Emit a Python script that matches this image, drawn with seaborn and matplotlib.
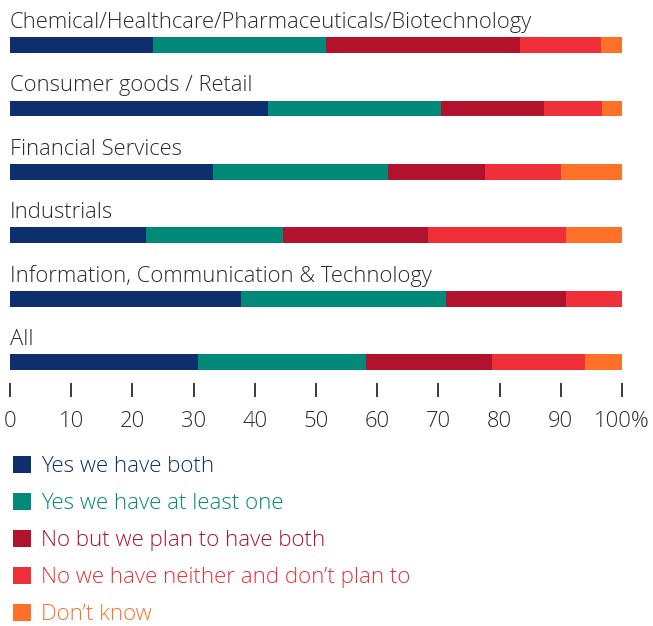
import pandas as pd
import numpy as np
import matplotlib.pyplot as plt
import seaborn as sns
from matplotlib.patches import Patch

# ── data ───────────────────────────────────────────────────────
industries = [
    "Chemical/Healthcare/Pharmaceuticals/Biotechnology",
    "Consumer goods / Retail",
    "Financial Services",
    "Industrials",
    "Information, Communication & Technology",
    "All",
]
answers = [
    "Yes we have both",
    "Yes we have at least one",
    "No but we plan to have both",
    "No we have neither and don\u2019t plan to",
    "Don\u2019t know",
]
yes_both     = [23.3, 42.2, 33.2, 22.2, 37.7, 30.8]
yes_one      = [28.3, 28.2, 28.5, 22.4, 33.6, 27.3]
no_plan      = [31.7, 16.9, 15.9, 23.7, 19.6, 20.7]
no_neither   = [13.2,  9.4, 12.4, 22.5,  9.1, 15.2]
dont_know    = [ 3.5,  3.3, 10.0,  9.2,  0.0,  6.0]
colors = ["#0d2f6e", "#008a77", "#b0132b", "#ef3038", "#ff7129"]
tick_vals = [0, 10, 20, 30, 40, 50, 60, 70, 80, 90, 100]
tick_labels = ["0", "10", "20", "30", "40", "50", "60", "70", "80", "90", "100%"]

df = pd.DataFrame({"industry": industries,
                   answers[0]: yes_both, answers[1]: yes_one,
                   answers[2]: no_plan, answers[3]: no_neither,
                   answers[4]: dont_know})
cum = df[answers].cumsum(axis=1)

# ── plot ───────────────────────────────────────────────────────
sns.set_style("white")
plt.rcParams["font.family"] = ["Open Sans", "DejaVu Sans"]
plt.rcParams["font.weight"] = 300
text_col = "#2b2b2b"

W, H = 653, 626
fig = plt.figure(figsize=(W / 100, H / 100), dpi=100)
ax = fig.add_axes([10 / W, 1 - 383 / H, 612 / W, 383 / H])

# draw cumulative bars back to front
for ans, c in reversed(list(zip(answers, colors))):
    sns.barplot(x=cum[ans], y=df["industry"], color=c, orient="h",
                width=0.25, saturation=1, ax=ax, linewidth=0)

ax.set_xlim(0, 100)
ax.set_ylim(5.33, -0.71)
ax.set_yticks([])
ax.set_ylabel("")
ax.set_xlabel("")
for s in ax.spines.values():
    s.set_visible(False)

for i, name in enumerate(industries):
    ax.text(0, i - 0.27, name, ha="left", va="baseline",
            fontsize=15.8, color=text_col, fontweight=300)

ax.set_xticks(tick_vals)
ax.set_xticklabels(tick_labels, fontweight=300)
ax.tick_params(axis="x", bottom=True, direction="out", length=10, width=1.3,
               color=text_col, pad=10, labelsize=15.8, labelcolor=text_col)

handles = [Patch(facecolor=c, edgecolor="none") for c in colors]
fig.legend(handles, answers, loc="upper left",
           bbox_to_anchor=(4 / W, 1 - 447 / H), frameon=False,
           handlelength=0.8, handleheight=0.8, handletextpad=0.45,
           labelspacing=0.71, fontsize=16, labelcolor=colors,
           borderaxespad=0)

fig.savefig("out.png", dpi=100)
